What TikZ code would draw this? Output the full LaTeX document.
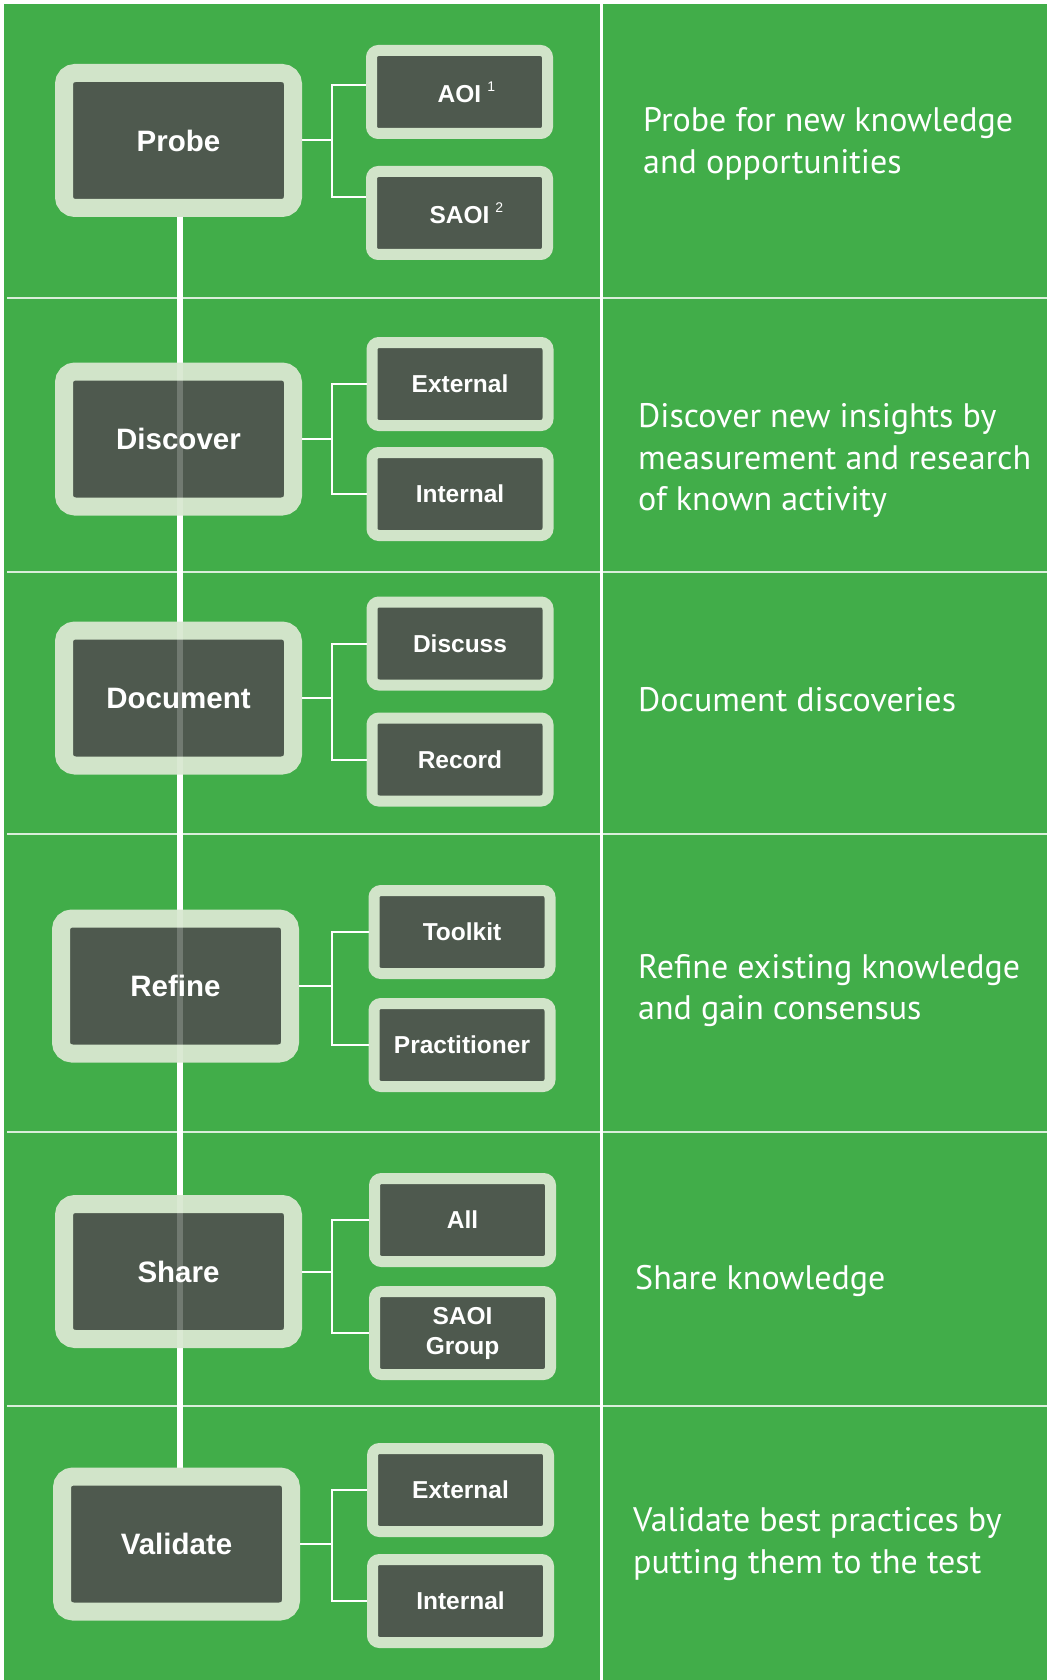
\documentclass[tikz,border=0pt]{standalone}
\usepackage{fontspec}
\usepackage{xcolor}
\usetikzlibrary{backgrounds}
\newfontfamily\boxfont{Liberation Sans}
\newfontfamily\notefont{PT Sans}
\definecolor{leafgreen}{HTML}{41AD49}
\definecolor{palegreen}{HTML}{D1E4C9}
\definecolor{slategreen}{HTML}{4E594E}
\newcommand{\supnum}[1]{\rlap{\hspace{6pt}\raisebox{11pt}{\mdseries\fontsize{14}{14}\selectfont #1}}}

\begin{document}
\begin{tikzpicture}[x=1pt,y=-1pt]
        \tikzstyle{stage}=[rectangle,draw=palegreen,fill=slategreen,line width=18pt,
        rounded corners=11pt,minimum width=229pt,minimum height=135pt,inner sep=0pt,
        text=white,font=\boxfont\bfseries\fontsize{29.5}{34}\selectfont]
        \tikzstyle{task}=[rectangle,draw=palegreen,fill=slategreen,line width=11pt,
        rounded corners=7pt,minimum width=176pt,minimum height=83pt,inner sep=0pt,
        text=white,align=center,font=\boxfont\bfseries\fontsize{24.5}{30}\selectfont]
        \tikzstyle{note}=[anchor=west,align=left,inner sep=0pt,text=white,
        font=\notefont\fontsize{34}{41.5}\selectfont]
        \tikzstyle{link}=[draw=white,line width=2pt]
        \tikzstyle{rule}=[draw=white,opacity=.8,line width=1.5pt]
        \useasboundingbox (0,0) rectangle (1047,1680);
        \begin{pgfonlayer}{background}
        \fill[leafgreen] (4,4) rectangle (1047,1680);
        \foreach \y in {298,572,834,1132,1406}
          \draw[rule] (7,\y) -- (1047,\y);
        \draw[white,line width=3pt] (601.5,4) -- (601.5,1680);
        \end{pgfonlayer}
        % stages
        \node at (178.5,140.5) [stage] (probe) {Probe};
        \node at (178.5,439) [stage] (discover) {Discover};
        \node at (178.5,698) [stage] (document) {Document};
        \node at (175.5,986) [stage] (refine) {Refine};
        \node at (178.5,1271.5) [stage] (share) {Share};
        \node at (176.5,1544) [stage] (validate) {Validate};
        % tasks
        \node at (459.5,92) [task] (aoi) {AOI\supnum{1}};
        \node at (459.5,213) [task] (saoi) {SAOI\supnum{2}};
        \node at (460,384) [task] (external) {External};
        \node at (460,494) [task] (internal) {Internal};
        \node at (460,643.5) [task] (discuss) {Discuss};
        \node at (460,759.5) [task] (record) {Record};
        \node at (462,932) [task] (toolkit) {Toolkit};
        \node at (462,1045) [task] (practitioner) {Practitioner};
        \node at (462.5,1220) [task] (all) {All};
        \node at (462.5,1333) [task] (group) {SAOI\\Group};
        \node at (460.5,1490) [task] (vexternal) {External};
        \node at (460.5,1601) [task] (vinternal) {Internal};
        % notes
        \node at (643,143.75) [note] (probe-note) {Probe for new knowledge\\and opportunities};
        \node at (638,460.75) [note] (discover-note) {Discover new insights by\\measurement and research\\of known activity};
        \node at (638,700) [note] (document-note) {Document discoveries};
        \node at (638,990.75) [note] (refine-note) {Refine existing knowledge\\and gain consensus};
        \node at (635,1280.75) [note] (share-note) {Share knowledge};
        \node at (633,1544.25) [note] (validate-note) {Validate best practices by\\putting them to the test};
        % links
        \coordinate (jx) at (332,0);
        \draw[link] (probe.east) -- (probe.east -| jx);
        \draw[link] ([yshift=7pt]aoi.west) -| (probe.east -| jx) |- ([yshift=16pt]saoi.west);
        \foreach \s/\a/\b in {discover/external/internal,document/discuss/record,
          refine/toolkit/practitioner,share/all/group,validate/vexternal/vinternal}
          \draw[link] (\a.west) -| (\s.east -| jx) |- (\b.west) (\s.east) -- (\s.east -| jx);
        \coordinate (spine) at ([xshift=1.5pt]probe.south);
        \begin{pgfonlayer}{background}
        \draw[white,line width=5.5pt] (spine) -- (spine |- validate.north);
        \end{pgfonlayer}
        \draw[white,opacity=.2,line width=5.5pt] (spine) -- (spine |- validate.north);
        %\draw[white] (probe.east) -- (aoi.west);
\end{tikzpicture}
\end{document}
